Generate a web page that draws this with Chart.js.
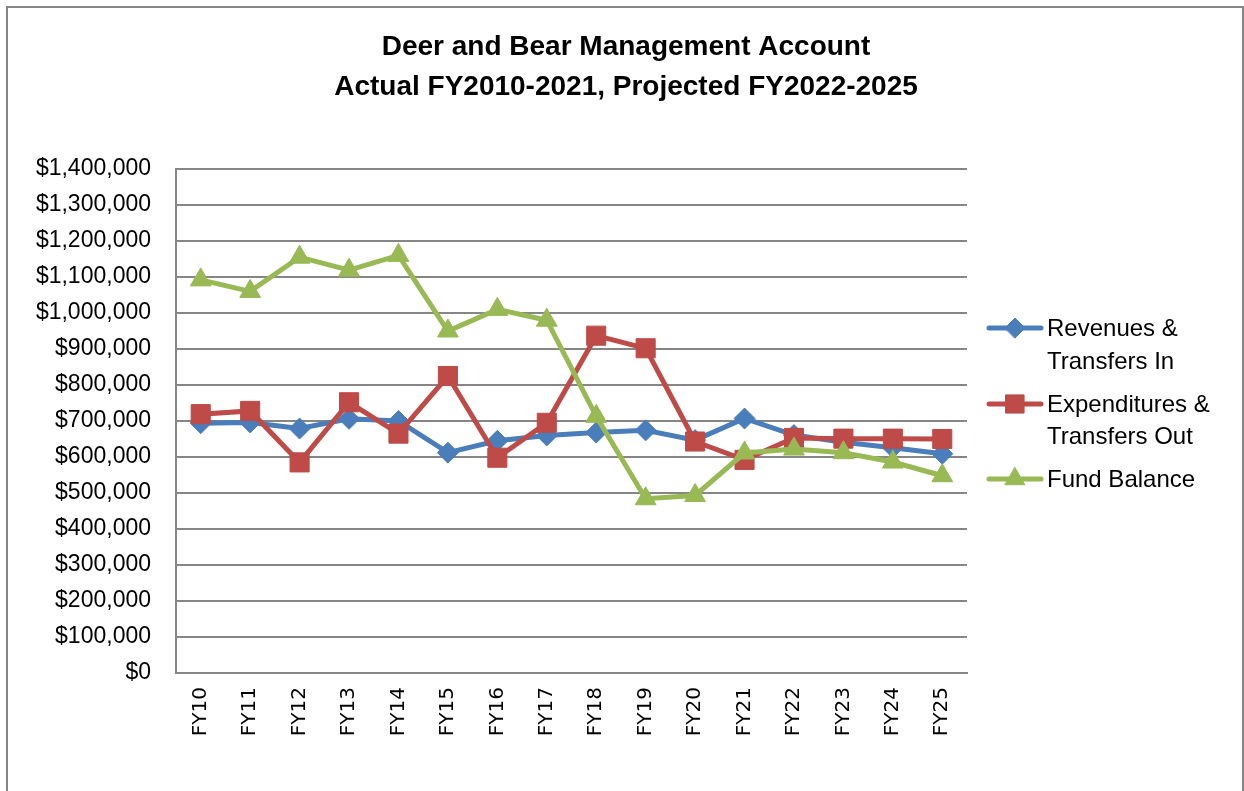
<!DOCTYPE html>
<html>
<head>
<meta charset="utf-8">
<script src="https://cdn.jsdelivr.net/npm/chart.js@4/dist/chart.umd.min.js"></script>
<style>
html,body{margin:0;padding:0;background:#fff;}
#wrap{position:relative;width:1244px;height:791px;}
</style>
</head>
<body>
<div id="wrap"><canvas id="c" width="1244" height="791"></canvas></div>
<script>
const categories = ["FY10","FY11","FY12","FY13","FY14","FY15","FY16","FY17","FY18","FY19","FY20","FY21","FY22","FY23","FY24","FY25"];
const revenues = [694000,696000,679000,706000,700000,612000,645000,660000,668000,674000,647000,707000,661000,641000,626000,609000];
const expenditures = [719000,728000,585000,752000,665000,825000,598000,695000,937000,902000,643000,592000,653000,651000,651000,650000];
const fundBalance = [1092000,1060000,1155000,1119000,1160000,950000,1010000,980000,713000,484000,493000,611000,622000,612000,586000,548000];
const seriesNames = [["Revenues &","Transfers In"],["Expenditures &","Transfers Out"],["Fund Balance"]];
const titleLines = ["Deer and Bear Management Account","Actual FY2010-2021, Projected FY2022-2025"];

const colors = ["#4A7EBB","#BE4B48","#98B954"];
const markers = ["rectRot","rect","triangle"];
const markerSizes = [10.5,13.5,12];
const FONT = "'Liberation Sans', Arial, sans-serif";
const XFONT = "'DejaVu Sans', sans-serif";

const decor = {
  id: 'decor',
  afterDraw(chart) {
    const ctx = chart.ctx;
    ctx.save();
    // border
    ctx.strokeStyle = '#868686';
    ctx.lineWidth = 2;
    ctx.beginPath();
    ctx.moveTo(7, 800); ctx.lineTo(7, 7); ctx.lineTo(1243, 7); ctx.lineTo(1243, 800);
    ctx.stroke();
    // title
    ctx.fillStyle = '#000';
    ctx.textAlign = 'center';
    ctx.textBaseline = 'middle';
    ctx.font = "bold 28px " + FONT;
    ctx.fillText(titleLines[0], 626, 47);
    ctx.fillText(titleLines[1], 626, 87);
    // legend
    const ys = [[328,361],[404,436],[479]];
    ctx.textAlign = 'left';
    ctx.font = "24px " + FONT;
    chart.data.datasets.forEach((ds, i) => {
      const y0 = ys[i][0];
      ctx.strokeStyle = ds.borderColor;
      ctx.lineWidth = 5;
      ctx.lineCap = 'round';
      ctx.beginPath(); ctx.moveTo(989, y0); ctx.lineTo(1041, y0); ctx.stroke();
      ctx.fillStyle = ds.backgroundColor;
      ctx.lineWidth = 1;
      Chart.helpers.drawPoint(ctx, {pointStyle: ds.pointStyle, radius: ds.pointRadius * 0.95, rotation: 0, borderWidth: 1}, 1015, y0);
      ctx.fillStyle = '#000';
      seriesNames[i].forEach((t, k) => ctx.fillText(t, 1047, ys[i][k] + 1));
    });
    ctx.restore();
  }
};

new Chart(document.getElementById('c'), {
  type: 'line',
  data: {
    labels: categories,
    datasets: [revenues, expenditures, fundBalance].map((d, i) => ({
      label: seriesNames[i].join(' '),
      data: d,
      borderColor: colors[i],
      backgroundColor: colors[i],
      borderWidth: 5,
      pointStyle: markers[i],
      pointRadius: markerSizes[i],
      pointBorderWidth: 1,
      pointBorderColor: colors[i],
      pointBackgroundColor: colors[i],
      tension: 0,
      order: 3 - i
    }))
  },
  options: {
    responsive: false,
    animation: false,
    events: [],
    layout: { padding: { left: 8, right: 1244 - 967, top: 169, bottom: 0 } },
    plugins: { legend: { display: false }, title: { display: false }, tooltip: { enabled: false } },
    scales: {
      x: {
        offset: true,
        grid: { display: false, drawTicks: false },
        border: { display: true, color: '#868686', width: 2 },
        ticks: { color: '#000', font: { family: XFONT, size: 20 }, maxRotation: 90, minRotation: 90, padding: 14 },
        afterFit(s) { s.height = 791 - 673; }
      },
      y: {
        min: 0, max: 1400000,
        ticks: {
          stepSize: 100000, color: '#000', padding: 25,
          font: { family: FONT, size: 23 },
          callback: v => '$' + Number(v).toLocaleString('en-US')
        },
        grid: { color: '#868686', lineWidth: 2, drawTicks: false },
        border: { display: true, color: '#868686', width: 2 },
        afterFit(s) { s.width = 176 - 8; }
      }
    }
  },
  plugins: [decor]
});
</script>
</body>
</html>
